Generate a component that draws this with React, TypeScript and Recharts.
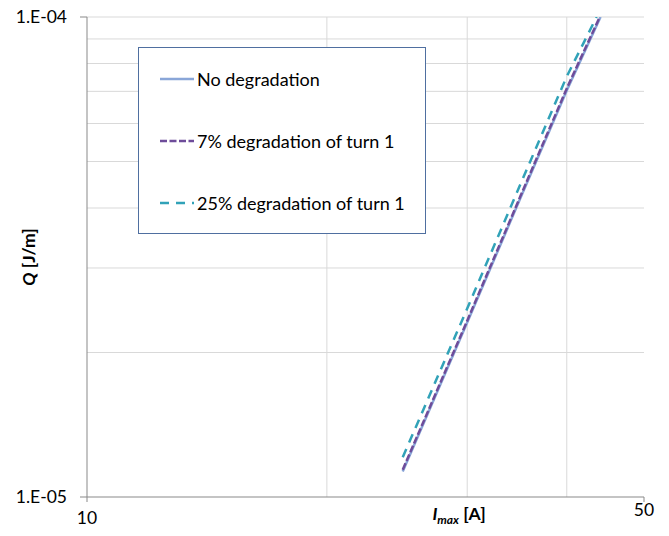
import { LineChart, Line, XAxis, YAxis, ReferenceLine, Label } from 'recharts'

// values (I in A, Q in J/m)
const noDegI = [24.9, 30, 35, 40, 44.1]
const noDegQ = [1.13e-5, 2.31e-5, 4.2e-5, 7.03e-5, 1.0e-4]
const deg7I = [24.9, 30, 35, 40, 44.0]
const deg7Q = [1.14e-5, 2.33e-5, 4.24e-5, 7.1e-5, 1.0e-4]
const deg25I = [24.9, 30, 35, 40, 43.6]
const deg25Q = [1.21e-5, 2.47e-5, 4.49e-5, 7.52e-5, 1.0e-4]

const xTicks = [10, 50]
const yTicks = [1e-5, 1e-4]
const xGrid = [20, 30, 40]
const yGrid = [2e-5, 3e-5, 4e-5, 5e-5, 6e-5, 7e-5, 8e-5, 9e-5, 1e-4]

const toPoints = (xs: number[], ys: number[]) => xs.map((x, i) => ({ x, q: ys[i] }))

const series = [
  { name: 'No degradation', data: toPoints(noDegI, noDegQ), color: '#8aa6d8', dash: undefined },
  { name: '7% degradation of turn 1', data: toPoints(deg7I, deg7Q), color: '#6e4c9a', dash: '7 2.5' },
  { name: '25% degradation of turn 1', data: toPoints(deg25I, deg25Q), color: '#31a2b8', dash: '9 7' },
]

const font = 'Lato, "Liberation Sans", sans-serif'

const fmtExp = (v: number) => {
  const e = Math.round(Math.log10(v))
  const s = e < 0 ? '-' : '+'
  return `1.E${s}${String(Math.abs(e)).padStart(2, '0')}`
}

function XTick(props: any) {
  const { x, y, payload } = props
  const dy = payload.value === 50 ? 14 : 22
  return (
    <text x={x} y={y + dy} textAnchor="middle" fill="#000" fontSize={17.5} fontFamily={font}>
      {payload.value}
    </text>
  )
}

function LegendBox() {
  return (
    <div
      style={{
        position: 'absolute',
        left: 138,
        top: 47,
        width: 288,
        height: 187,
        boxSizing: 'border-box',
        border: '1px solid #4f6fa0',
        background: '#fff',
        fontFamily: font,
        fontSize: 18,
        paddingTop: 0,
      }}
    >
      {series.map((s) => (
        <div key={s.name} style={{ display: 'flex', alignItems: 'center', height: 62 }}>
          <svg width={34} height={10} style={{ marginLeft: 21, marginRight: 3 }}>
            <line x1={0} y1={5} x2={34} y2={5} stroke={s.color} strokeWidth={2.5} strokeDasharray={s.dash} />
          </svg>
          <span style={{ color: '#000' }}>{s.name}</span>
        </div>
      ))}
    </div>
  )
}

export default function App() {
  return (
    <div style={{ position: 'absolute', left: 0, top: 0, width: 669, height: 536 }}>
      <LineChart
        width={669}
        height={536}
        margin={{ top: 17, right: 25, bottom: 0, left: 0 }}
        style={{ fontFamily: font }}
      >
        {xGrid.map((v) => (
          <ReferenceLine key={'x' + v} x={v} stroke="#d9d9d9" strokeWidth={1} />
        ))}
        {yGrid.map((v) => (
          <ReferenceLine key={'y' + v} y={v} stroke="#d9d9d9" strokeWidth={1} />
        ))}
        <XAxis
          dataKey="x"
          type="number"
          scale="log"
          domain={[10, 50]}
          ticks={xTicks}
          allowDataOverflow
          height={39}
          tickSize={5}
          tickMargin={0}
          tick={<XTick />}
          stroke="#898989"
        >
          <Label
            content={(p: any) => {
              const vb = p.viewBox
              return (
                <text
                  x={vb.x + vb.width * 0.668}
                  y={vb.y + 23}
                  textAnchor="middle"
                  fontFamily={font}
                  fontSize={17.5}
                  fontWeight="bold"
                  fill="#000"
                >
                  <tspan fontStyle="italic">I</tspan>
                  <tspan fontStyle="italic" fontSize={12} dy={4}>
                    max
                  </tspan>
                  <tspan dy={-4}> [A]</tspan>
                </text>
              )
            }}
          />
        </XAxis>
        <YAxis
          dataKey="q"
          type="number"
          scale="log"
          domain={[1e-5, 1e-4]}
          ticks={yTicks}
          allowDataOverflow
          width={87}
          tickSize={7}
          tickMargin={13}
          tickFormatter={fmtExp}
          tick={{ fill: '#000', fontSize: 17.5, fontFamily: font }}
          stroke="#898989"
        >
          <Label
            content={(p: any) => {
              const vb = p.viewBox
              const cx = 28
              const cy = vb.y + vb.height / 2
              return (
                <text
                  x={cx}
                  y={cy}
                  transform={`rotate(-90 ${cx} ${cy})`}
                  textAnchor="middle"
                  dominantBaseline="central"
                  fontFamily={font}
                  fontSize={17.5}
                  fontWeight="bold"
                  fill="#000"
                >
                  <tspan fontStyle="italic">Q</tspan>
                  <tspan> [J/m]</tspan>
                </text>
              )
            }}
          />
        </YAxis>
        {series.map((s) => (
          <Line
            key={s.name}
            data={s.data}
            dataKey="q"
            name={s.name}
            type="linear"
            stroke={s.color}
            strokeWidth={2.5}
            strokeDasharray={s.dash}
            dot={false}
            activeDot={false}
            isAnimationActive={false}
          />
        ))}
      </LineChart>
      <LegendBox />
    </div>
  )
}
